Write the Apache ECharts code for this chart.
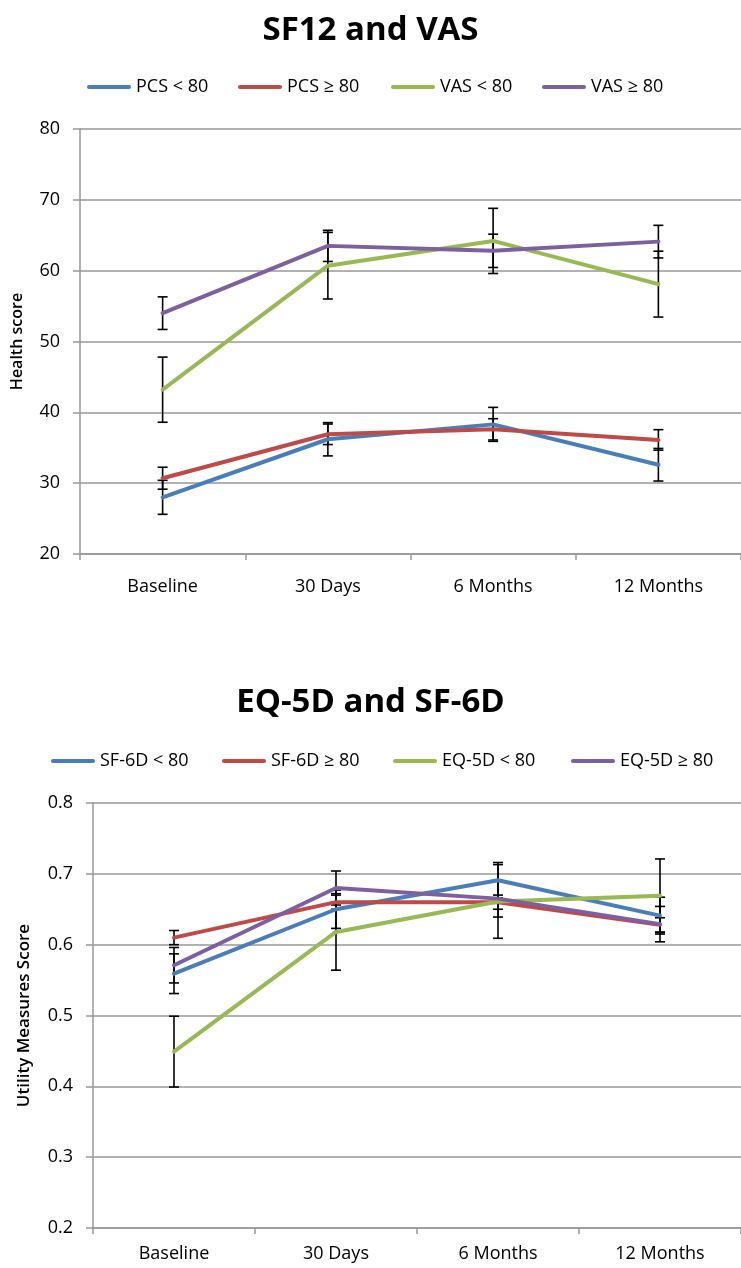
<!DOCTYPE html>
<html>
<head>
<meta charset="utf-8">
<script src="https://cdn.jsdelivr.net/npm/echarts@6/dist/echarts.min.js"></script>
<style>
  html, body { margin: 0; padding: 0; background: #ffffff; }
  #chart { width: 741px; height: 1268px; }
</style>
</head>
<body>
<div id="chart"></div>
<script>
// Shared time points
const categories = ['Baseline', '30 Days', '6 Months', '12 Months'];

// SF12 and VAS: mean health score and error half-width per time point
const pcsLow = [28.0, 36.2, 38.3, 32.6];
const pcsLowErr = [2.4, 2.35, 2.4, 2.3];
const pcsHigh = [30.7, 36.9, 37.6, 36.1];
const pcsHighErr = [1.55, 1.45, 1.5, 1.45];
const vasLow = [43.2, 60.7, 64.2, 58.1];
const vasLowErr = [4.6, 4.7, 4.6, 4.65];
const vasHigh = [54.0, 63.5, 62.8, 64.1];
const vasHighErr = [2.3, 2.2, 2.35, 2.3];

// EQ-5D and SF-6D: mean utility score and error half-width per time point
const sf6dLow = [0.559, 0.650, 0.691, 0.641];
const sf6dLowErr = [0.028, 0.027, 0.025, 0.026];
const sf6dHigh = [0.610, 0.660, 0.660, 0.628];
const sf6dHighErr = [0.010, 0.010, 0.010, 0.010];
const eq5dLow = [0.449, 0.618, 0.661, 0.669];
const eq5dLowErr = [0.050, 0.054, 0.052, 0.052];
const eq5dHigh = [0.571, 0.680, 0.665, 0.629];
const eq5dHighErr = [0.025, 0.024, 0.026, 0.025];

// Axis ticks
const topTicks = { min: 20, max: 80, interval: 10 };
const bottomTicks = { min: 0.2, max: 0.8, interval: 0.1 };

const COLORS = ['#4A7EBB', '#BE4B48', '#98B954', '#7D60A0'];
const FONT = 'Open Sans';
const GRID_GRAY = '#989898';

const chart = echarts.init(document.getElementById('chart'), null, { renderer: 'canvas' });

function errorBarRenderer(params, api) {
  const x = api.value(0);
  const lo = api.coord([x, api.value(1)]);
  const hi = api.coord([x, api.value(2)]);
  const cap = 5;
  const style = { stroke: '#000000', lineWidth: 1.6 };
  return {
    type: 'group',
    children: [
      { type: 'line', shape: { x1: lo[0], y1: lo[1], x2: hi[0], y2: hi[1] }, style },
      { type: 'line', shape: { x1: lo[0] - cap, y1: lo[1], x2: lo[0] + cap, y2: lo[1] }, style },
      { type: 'line', shape: { x1: hi[0] - cap, y1: hi[1], x2: hi[0] + cap, y2: hi[1] }, style }
    ]
  };
}

function buildSeries(names, values, errors, axisIndex) {
  const out = [];
  names.forEach((name, i) => {
    out.push({
      type: 'custom',
      name: name + ' error',
      xAxisIndex: axisIndex,
      yAxisIndex: axisIndex,
      renderItem: errorBarRenderer,
      encode: { x: 0, y: [1, 2] },
      data: values[i].map((v, k) => [k, v - errors[i][k], v + errors[i][k]]),
      z: 2,
      silent: true
    });
  });
  names.forEach((name, i) => {
    out.push({
      type: 'line',
      name: name,
      xAxisIndex: axisIndex,
      yAxisIndex: axisIndex,
      data: values[i],
      symbol: 'none',
      color: COLORS[i],
      lineStyle: { width: 4, color: COLORS[i], cap: 'round', join: 'round' },
      z: 3
    });
  });
  return out;
}

function buildLegends(names, lefts, top) {
  return names.map((name, i) => ({
    data: [name],
    left: lefts[i],
    top: top,
    icon: 'path://M2,0 L42,0 A2,2 0 0 1 42,4 L2,4 A2,2 0 0 1 2,0 Z',
    itemWidth: 44,
    itemHeight: 4,
    itemGap: 0,
    padding: 0,
    textStyle: { fontFamily: FONT, fontSize: 18, color: '#000000', padding: [0, 0, 0, 0] }
  }));
}

function xAxis(gridIndex, margin) {
  return {
    type: 'category',
    gridIndex,
    data: categories,
    boundaryGap: true,
    axisLine: { lineStyle: { color: GRID_GRAY, width: 1.5 } },
    axisTick: { show: true, length: 6, lineStyle: { color: GRID_GRAY, width: 1.5 } },
    axisLabel: { fontFamily: FONT, fontSize: 18, color: '#000000', margin }
  };
}

function yAxis(gridIndex, ticks, name, nameGap, nameSize, decimals) {
  return {
    type: 'value',
    gridIndex,
    min: ticks.min,
    max: ticks.max,
    interval: ticks.interval,
    name,
    nameLocation: 'middle',
    nameRotate: 90,
    nameGap,
    nameTextStyle: { fontFamily: FONT, fontSize: nameSize, fontWeight: 600, color: '#000000' },
    axisLine: { show: true, lineStyle: { color: GRID_GRAY, width: 1.5 } },
    axisTick: { show: true, length: 7, lineStyle: { color: GRID_GRAY, width: 1.5 } },
    splitLine: { show: true, lineStyle: { color: GRID_GRAY, width: 1.5 } },
    axisLabel: {
      fontFamily: FONT, fontSize: 18, color: '#000000', margin: 20,
      formatter: v => v.toFixed(decimals)
    }
  };
}

const topNames = ['PCS < 80', 'PCS ≥ 80', 'VAS < 80', 'VAS ≥ 80'];
const bottomNames = ['SF-6D < 80', 'SF-6D ≥ 80', 'EQ-5D < 80', 'EQ-5D ≥ 80'];

const option = {
  backgroundColor: '#ffffff',
  animation: false,
  title: [
    {
      text: 'SF12 and VAS', left: 'center', top: 9,
      textStyle: { fontFamily: FONT, fontSize: 33, fontWeight: 'bold', color: '#000000' }
    },
    {
      text: 'EQ-5D and SF-6D', left: 'center', top: 681,
      textStyle: { fontFamily: FONT, fontSize: 33, fontWeight: 'bold', color: '#000000' }
    }
  ],
  legend: [
    ...buildLegends(topNames, [87, 238, 391, 542], 78),
    ...buildLegends(bottomNames, [51, 222, 393, 571], 752)
  ],
  grid: [
    { left: 80, top: 129, width: 670, height: 425, containLabel: false },
    { left: 93, top: 803, width: 664, height: 425, containLabel: false }
  ],
  xAxis: [xAxis(0, 24), xAxis(1, 17)],
  yAxis: [
    yAxis(0, topTicks, 'Health score', 55, 16, 0),
    yAxis(1, bottomTicks, 'Utility Measures Score', 60, 17, 1)
  ],
  series: [
    ...buildSeries(topNames, [pcsLow, pcsHigh, vasLow, vasHigh],
      [pcsLowErr, pcsHighErr, vasLowErr, vasHighErr], 0),
    ...buildSeries(bottomNames, [sf6dLow, sf6dHigh, eq5dLow, eq5dHigh],
      [sf6dLowErr, sf6dHighErr, eq5dLowErr, eq5dHighErr], 1)
  ]
};

chart.setOption(option);
</script>
</body>
</html>
